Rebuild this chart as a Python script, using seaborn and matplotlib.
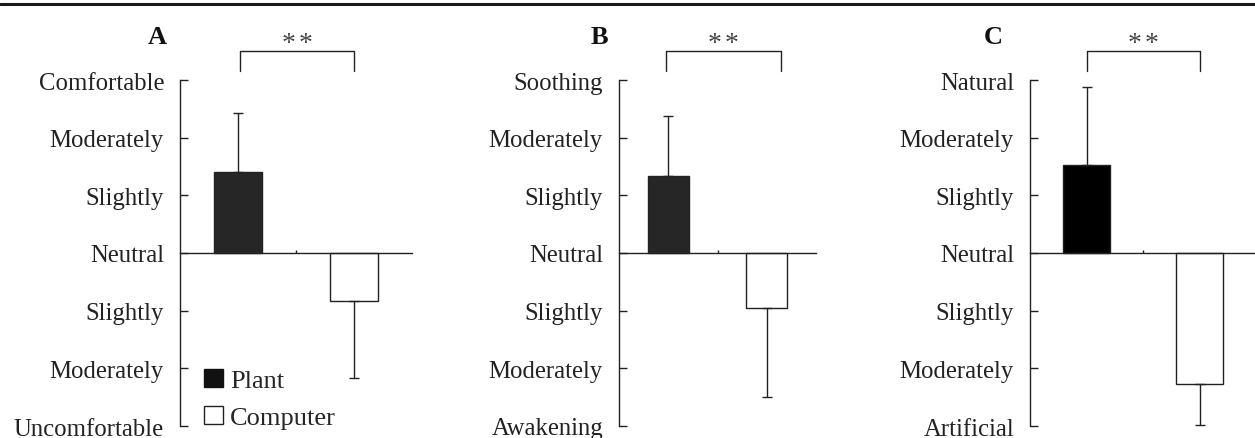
import matplotlib
matplotlib.use("Agg")
import matplotlib.pyplot as plt
from matplotlib.patches import Patch
from matplotlib.lines import Line2D
from matplotlib.transforms import offset_copy
import seaborn as sns
import pandas as pd

# ---- data ----
categories = ["Plant", "Computer"]
a_means = [1.40, -0.83]
a_errs = [1.03, 1.34]
b_means = [1.33, -0.95]
b_errs = [1.04, 1.55]
c_means = [1.52, -2.27]
c_errs = [1.36, 0.71]
tick_values = [-3, -2, -1, 0, 1, 2, 3]
a_ticklabels = ["Uncomfortable", "Moderately", "Slightly", "Neutral", "Slightly", "Moderately", "Comfortable"]
b_ticklabels = ["Awakening", "Moderately", "Slightly", "Neutral", "Slightly", "Moderately", "Soothing"]
c_ticklabels = ["Artificial", "Moderately", "Slightly", "Neutral", "Slightly", "Moderately", "Natural"]
panel_letters = ["A", "B", "C"]
signif_mark = "*"

sns.set_theme(style="white")
plt.rcParams["font.family"] = ["Liberation Serif", "DejaVu Serif"]

W, H = 1255, 439
fig = plt.figure(figsize=(W / 100, H / 100), dpi=100)

ink = "#222222"
lw = 1.0

panels = [
    dict(means=a_means, errs=a_errs, labels=a_ticklabels, left=180, right=412, plant="#262626",
         width=0.41, letter_x=157, bracket=(0.02, 1.0)),
    dict(means=b_means, errs=b_errs, labels=b_ticklabels, left=619, right=816, plant="#262626",
         width=0.42, letter_x=599, bracket=(-0.02, 1.14)),
    dict(means=c_means, errs=c_errs, labels=c_ticklabels, left=1030, right=1256, plant="#000000",
         width=0.41, letter_x=993, bracket=(0.0, 1.0)),
]

y_top_px, y_bot_px = 81, 427
for i, p in enumerate(panels):
    ax = fig.add_axes([p["left"] / W, 1 - y_bot_px / H, (p["right"] - p["left"]) / W,
                       (y_bot_px - y_top_px) / H])
    df = pd.DataFrame({"cat": categories, "val": p["means"]})
    sns.barplot(data=df, x="cat", y="val", hue="cat", palette=[p["plant"], "white"],
                edgecolor=ink, linewidth=lw, width=p["width"], legend=False, ax=ax, zorder=2)
    lower = [0 if m > 0 else e for m, e in zip(p["means"], p["errs"])]
    upper = [e if m > 0 else 0 for m, e in zip(p["means"], p["errs"])]
    ax.errorbar([0, 1], p["means"], yerr=[lower, upper], fmt="none", ecolor=ink,
                elinewidth=lw, capsize=3.8, capthick=lw, zorder=3)
    ax.set_xlim(-0.5, 1.5)
    ax.set_ylim(-3, 3)
    ax.set_xlabel("")
    ax.set_ylabel("")
    ax.set_yticks(tick_values)
    ax.set_yticklabels(p["labels"], fontsize=17.8, color=ink)
    ax.set_xticks([0.5])
    ax.set_xticklabels([])
    ax.tick_params(axis="y", direction="in", length=6, width=lw, color=ink, pad=11.5, left=True)
    ax.tick_params(axis="x", direction="in", length=2, width=lw, color=ink, bottom=True)
    for s in ["top", "right"]:
        ax.spines[s].set_visible(False)
    ax.spines["left"].set_color(ink)
    ax.spines["left"].set_linewidth(lw)
    ax.spines["bottom"].set_position(("data", 0))
    ax.spines["bottom"].set_color(ink)
    ax.spines["bottom"].set_linewidth(lw)
    ax.patch.set_alpha(0)

    # significance bracket
    bx0, bx1 = p["bracket"]
    ax.plot([bx0, bx0, bx1, bx1], [3.15, 3.50, 3.50, 3.15], color=ink, lw=lw, clip_on=False)
    xm = (bx0 + bx1) / 2
    for dx in (-6.2, 6.2):
        tr = offset_copy(ax.transData, fig=fig, x=dx, y=0, units="points")
        ax.text(xm, 3.63, signif_mark, transform=tr, ha="center", va="center",
                fontsize=20, color="#444444", clip_on=False)

    fig.text(p["letter_x"] / W, 1 - 38 / H, panel_letters[i], ha="center", va="center",
             fontsize=19, fontweight="bold", color="#111111")

    if i == 0:
        handles = [Patch(facecolor="#111111", edgecolor="#111111", label=categories[0]),
                   Patch(facecolor="white", edgecolor=ink, linewidth=lw, label=categories[1])]
        ax.legend(handles=handles, loc="upper left", bbox_to_anchor=(0.105, 0.165), frameon=False,
                  fontsize=19, handlelength=0.7, handleheight=0.7, handletextpad=0.28,
                  labelspacing=0.5, borderaxespad=0, borderpad=0)

fig.add_artist(Line2D([0, 1], [1 - 5 / H, 1 - 5 / H], color="#1a1a1a", lw=2.2,
                      transform=fig.transFigure))

fig.savefig("out.png", dpi=100)
